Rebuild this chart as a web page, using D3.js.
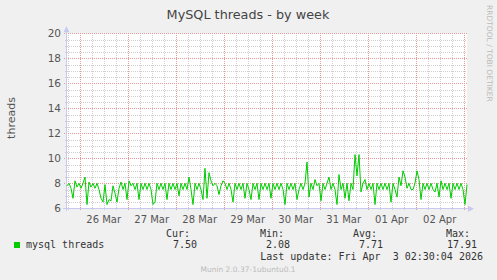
<!DOCTYPE html>
<html><head><meta charset="utf-8">
<script src="https://cdn.jsdelivr.net/npm/d3@7"></script>
<style>
html,body{margin:0;padding:0;background:#f0f0f0;}
svg{display:block;}
text{font-family:"DejaVu Sans",sans-serif;}
.mono{font-family:"DejaVu Sans Mono",monospace;font-size:10px;fill:#333;}
</style></head>
<body>
<script>
// ---- data ----
const title = "MySQL threads - by week";
const yLabel = "threads";
const seriesName = "mysql threads";
const startTime = Date.UTC(2026, 2, 25, 17, 40); // first sample
const stepHours = 1;
const threads = [
 7.8, 8.0, 7.6, 6.8, 8.2, 7.7, 8.0, 7.6, 8.0, 8.5,
 6.3, 8.1, 7.7, 8.0, 7.6, 8.0, 7.5, 6.8, 6.5, 7.9,
 6.3, 6.7, 6.6, 7.8, 7.2, 6.5, 7.6, 8.1, 7.5, 8.0,
 6.7, 8.2, 7.8, 8.0, 7.5, 8.0, 6.7, 8.0, 7.5, 8.0,
 7.5, 8.0, 7.5, 6.3, 6.5, 8.0, 7.5, 8.0, 7.5, 8.0,
 6.7, 8.0, 7.5, 8.0, 7.5, 8.0, 7.0, 8.0, 7.5, 8.0,
 7.5, 8.5, 7.5, 6.3, 8.0, 7.5, 8.0, 7.5, 6.7, 9.2,
 6.8, 8.85, 8.2, 7.8, 8.0, 7.8, 7.1, 7.8, 8.2, 8.0,
 7.5, 8.0, 7.5, 6.5, 8.0, 7.5, 8.0, 7.5, 8.0, 6.8,
 8.0, 7.5, 6.7, 8.0, 7.5, 8.0, 6.7, 8.0, 7.5, 8.0,
 7.5, 8.0, 6.8, 8.0, 7.5, 8.0, 7.5, 8.0, 7.5, 6.3,
 8.0, 7.5, 8.0, 7.5, 8.0, 6.7, 7.5, 8.0, 7.5, 8.0,
 9.7, 6.9, 8.0, 7.5, 8.3, 7.8, 8.0, 6.6, 8.0, 7.5,
 8.0, 8.5, 7.5, 8.0, 7.5, 6.3, 8.7, 7.5, 8.0, 6.8,
 8.0, 6.6, 8.0, 7.5, 10.3, 8.6, 10.3, 7.3, 8.0, 8.3,
 7.5, 8.0, 7.5, 8.0, 6.3, 8.0, 7.5, 8.0, 7.5, 8.0,
 7.5, 8.0, 6.5, 8.0, 7.5, 6.9, 8.5, 7.8, 9.0, 8.5,
 7.6, 8.0, 7.5, 7.5, 8.0, 9.0, 8.3, 6.7, 8.0, 7.5,
 8.0, 7.5, 8.0, 7.5, 7.3, 8.0, 6.9, 8.2, 7.5, 8.0,
 7.5, 8.0, 6.8, 8.0, 7.5, 8.0, 7.5, 8.0, 7.5, 6.3,
 7.9
];
const yTicks = [6, 8, 10, 12, 14, 16, 18, 20];
const legendHeaders = ["Cur:", "Min:", "Avg:", "Max:"];
const legendValues = ["7.50", "2.08", "7.71", "17.91"];
const lastUpdate = "Last update: Fri Apr  3 02:30:04 2026";
const footer = "Munin 2.0.37-1ubuntu0.1";
const sideText = "RRDTOOL / TOBI OETIKER";

// ---- layout ----
const W = 497, H = 280;
const L = 67, R = 467, T = 33.3, B = 208.3;
const svg = d3.select("body").append("svg").attr("width", W).attr("height", H);

const data = threads.map((v, i) => ({t: new Date(startTime + i * stepHours * 3600e3), v}));
const endTime = new Date(startTime + (threads.length - 1) * stepHours * 3600e3);
const x = d3.scaleUtc().domain([new Date(startTime), endTime]).range([L, R]);
const y = d3.scaleLinear().domain([6, 20]).range([B, T]);

svg.append("rect").attr("x", L).attr("y", T).attr("width", R - L).attr("height", B - T).attr("fill", "#fff");

const g = svg.append("g").attr("shape-rendering", "crispEdges");
d3.range(6, 20.01, 0.5).forEach(v => {
  if (v % 2 === 0) return;
  g.append("line").attr("x1", L - 2).attr("x2", R).attr("y1", Math.round(y(v)) + 0.5).attr("y2", Math.round(y(v)) + 0.5)
    .attr("stroke", "#cfcfcf").attr("stroke-dasharray", "1,1");
});
d3.utcHour.every(6).range(new Date(startTime), endTime).forEach(t => {
  if (t.getUTCHours() === 0) return;
  g.append("line").attr("x1", Math.round(x(t)) + 0.5).attr("x2", Math.round(x(t)) + 0.5).attr("y1", T).attr("y2", B + 2)
    .attr("stroke", "#cfcfcf").attr("stroke-dasharray", "1,1");
});
yTicks.forEach(v => {
  g.append("line").attr("x1", L - 3).attr("x2", R).attr("y1", Math.round(y(v)) + 0.5).attr("y2", Math.round(y(v)) + 0.5)
    .attr("stroke", "#e89a9a").attr("stroke-dasharray", "1,1");
});
const days = d3.utcDay.range(new Date(startTime), endTime);
days.forEach(t => {
  g.append("line").attr("x1", Math.round(x(t)) + 0.5).attr("x2", Math.round(x(t)) + 0.5).attr("y1", T).attr("y2", B + 3)
    .attr("stroke", "#e89a9a").attr("stroke-dasharray", "1,1");
});

svg.append("g").selectAll("text").data(yTicks).join("text")
  .attr("x", 61).attr("y", d => y(d) + 4).attr("text-anchor", "end")
  .attr("font-size", 10.5).attr("fill", "#555").text(d => d);
const fmt = d3.utcFormat("%d %b");
const labelDays = days.filter(d => d3.utcHour.offset(d, 12) <= endTime);
svg.append("g").selectAll("text").data(labelDays).join("text")
  .attr("x", d => x(d3.utcHour.offset(d, 12))).attr("y", 223).attr("text-anchor", "middle")
  .attr("font-size", 10).attr("fill", "#555").text(d => fmt(d));

const ax = svg.append("g");
ax.append("line").attr("x1", L - 0.5).attr("x2", L - 0.5).attr("y1", B + 3).attr("y2", T - 2)
  .attr("stroke", "#c8c8f0").attr("shape-rendering", "crispEdges");
ax.append("path").attr("d", `M${L - 3.5},${T - 1} L${L + 2.5},${T - 1} L${L - 0.5},${T - 7} Z`).attr("fill", "#c8c8f0");
ax.append("line").attr("x1", L - 4).attr("x2", R + 2).attr("y1", B + 0.5).attr("y2", B + 0.5)
  .attr("stroke", "#c8c8f0").attr("shape-rendering", "crispEdges");
ax.append("path").attr("d", `M${R + 1},${B - 2.5} L${R + 1},${B + 3.5} L${R + 7},${B + 0.5} Z`).attr("fill", "#c8c8f0");

svg.append("path").datum(data)
  .attr("d", d3.line().x(d => x(d.t)).y(d => y(d.v)))
  .attr("fill", "none").attr("stroke", "#00cc00").attr("stroke-width", 1);

svg.append("text").attr("x", 248).attr("y", 18.5).attr("text-anchor", "middle")
  .attr("font-size", 12.8).attr("fill", "#444").text(title);
svg.append("text").attr("transform", "translate(15,118) rotate(-90)").attr("text-anchor", "middle")
  .attr("font-size", 11).attr("fill", "#555").text(yLabel);
svg.append("text").attr("transform", "translate(487,5) rotate(90)").attr("text-anchor", "start")
  .attr("font-size", 7.5).attr("fill", "#bbb").text(sideText);

svg.append("rect").attr("x", 14).attr("y", 242).attr("width", 6).attr("height", 6).attr("fill", "#00cc00");
svg.append("text").attr("class", "mono").attr("x", 26).attr("y", 248).text(seriesName);
const hdrEnds = [190, 284, 377, 470];
const valEnds = [197, 290, 383, 477];
legendHeaders.forEach((h, i) => {
  svg.append("text").attr("class", "mono").attr("x", hdrEnds[i]).attr("y", 236.5).attr("text-anchor", "end").text(h);
});
legendValues.forEach((v, i) => {
  svg.append("text").attr("class", "mono").attr("x", valEnds[i]).attr("y", 248).attr("text-anchor", "end").text(v);
});
svg.append("text").attr("class", "mono").attr("x", 483).attr("y", 259.5).attr("text-anchor", "end")
  .attr("xml:space", "preserve").style("white-space", "pre").text(lastUpdate);
svg.append("text").attr("x", 248).attr("y", 272).attr("text-anchor", "middle")
  .attr("font-size", 7.5).attr("fill", "#bbb").text(footer);
</script>
</body></html>
